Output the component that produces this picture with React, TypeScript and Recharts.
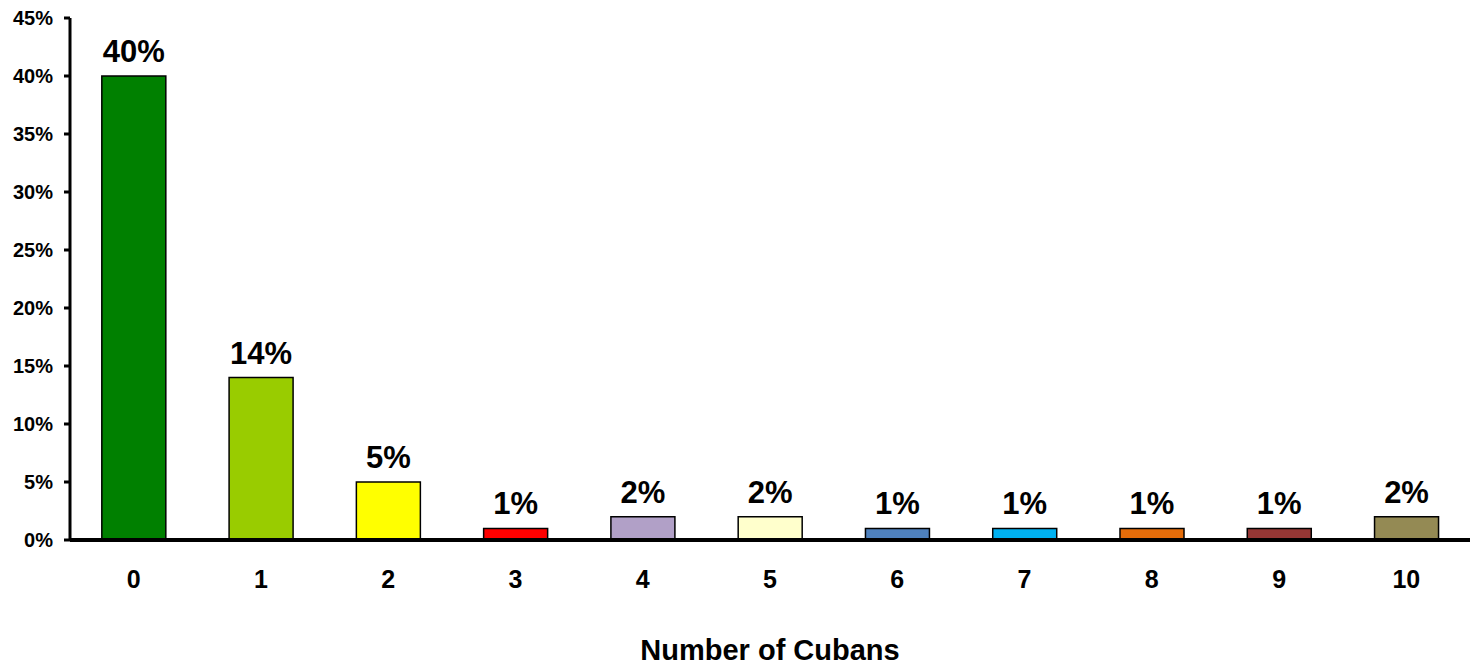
import { BarChart, Bar, XAxis, YAxis, LabelList, Cell, Label } from 'recharts';

const categories = ['0', '1', '2', '3', '4', '5', '6', '7', '8', '9', '10'];
const shares = [40, 14, 5, 1, 2, 2, 1, 1, 1, 1, 2];
const barColors = [
  '#008000', '#99CC00', '#FFFF00', '#FF0000', '#B1A0C7', '#FFFFCC',
  '#4F81BD', '#00B0F0', '#E46C0A', '#953735', '#948A54',
];
const yTicks = [0, 5, 10, 15, 20, 25, 30, 35, 40, 45];

const data = categories.map((c, i) => ({ cubans: c, share: shares[i] }));

const font = 'Arial, "Liberation Sans", sans-serif';

export default function App() {
  return (
    <div style={{ position: 'absolute', left: 0, top: 0, background: '#fff' }}>
      <BarChart
        width={1470}
        height={666}
        data={data}
        margin={{ top: 18, right: 0, left: 0, bottom: 0 }}
        barCategoryGap="25%"
      >
        <YAxis
          domain={[0, 45]}
          ticks={yTicks}
          interval={0}
          width={70}
          tickFormatter={(v: number) => `${v}%`}
          axisLine={{ stroke: '#000', strokeWidth: 3 }}
          tickLine={{ stroke: '#000', strokeWidth: 3 }}
          tickSize={6}
          tickMargin={11}
          tick={{ fill: '#000', fontSize: 20, fontWeight: 'bold', fontFamily: font }}
        />
        <XAxis
          dataKey="cubans"
          height={126}
          interval={0}
          axisLine={{ stroke: '#000', strokeWidth: 4 }}
          tickLine={false}
          tickMargin={24}
          tick={{ fill: '#000', fontSize: 25, fontWeight: 'bold', fontFamily: font }}
        >
          <Label
            value="Number of Cubans"
            position="insideBottom"
            offset={6}
            style={{ fill: '#000', fontSize: 29, fontWeight: 'bold', fontFamily: font }}
          />
        </XAxis>
        <Bar dataKey="share" stroke="#000" strokeWidth={1.5} isAnimationActive={false}>
          {data.map((d, i) => (
            <Cell key={d.cubans} fill={barColors[i]} />
          ))}
          <LabelList
            dataKey="share"
            position="top"
            offset={14}
            formatter={(v: any) => `${v}%`}
            style={{ fill: '#000', fontSize: 31, fontWeight: 'bold', fontFamily: font }}
          />
        </Bar>
      </BarChart>
    </div>
  );
}
